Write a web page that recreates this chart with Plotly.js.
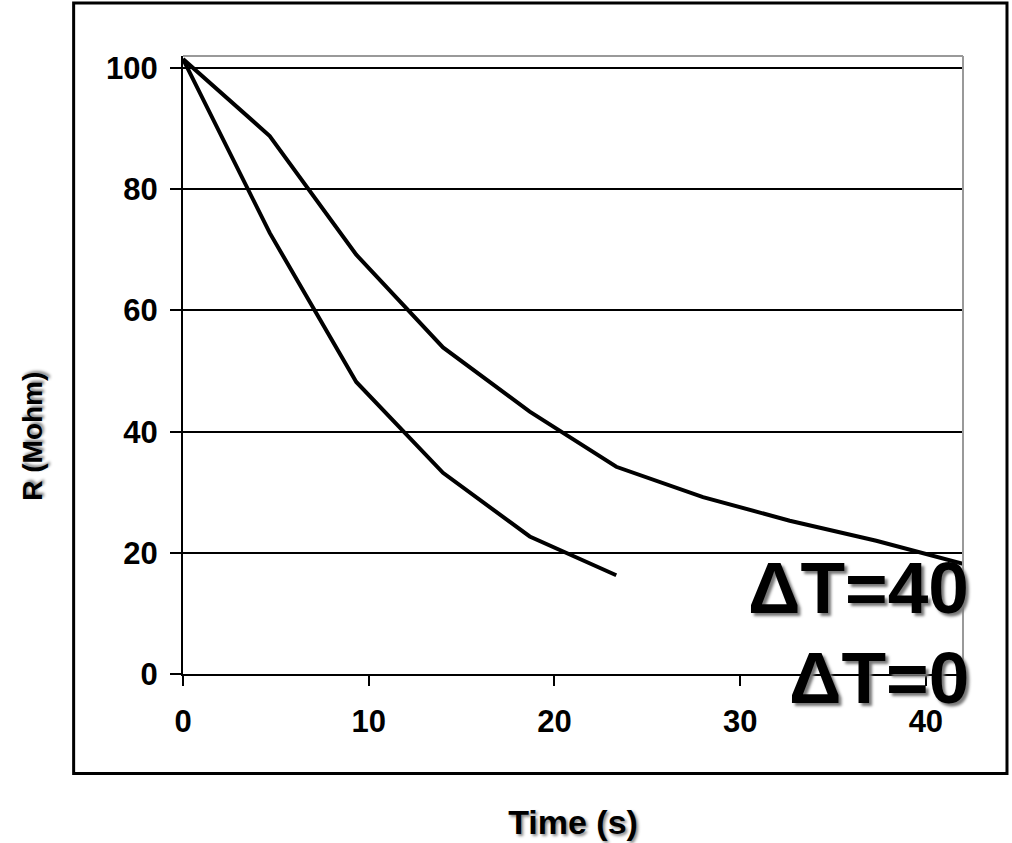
<!DOCTYPE html>
<html>
<head>
<meta charset="utf-8">
<script src="https://cdn.plot.ly/plotly-3.0.1.min.js"></script>
<style>html,body{margin:0;padding:0;background:#fff;}#chart{width:1012px;height:843px;}</style>
</head>
<body>
<div id="chart"></div>
<script>
// Data
const timeS = [0, 4.67, 9.33, 14, 18.67, 23.33, 28, 32.67, 37.33, 42];
const rDT40 = [101.5, 88.8, 69.2, 53.9, 43.3, 34.2, 29.2, 25.3, 22.0, 18.2];
const rDT0 = [101.5, 72.8, 48.2, 33.2, 22.7, 16.3];
const seriesNames = ["ΔT=40", "ΔT=0"];
const xTickVals = [0, 10, 20, 30, 40];
const yTickVals = [0, 20, 40, 60, 80, 100];
const xTitle = "Time (s)";
const yTitle = "R (Mohm)";

const FONT = "'Liberation Sans', Arial, sans-serif";

const traces = [
  {x: timeS, y: rDT40, name: seriesNames[0], mode: "lines", line: {color: "#000", width: 4}},
  {x: timeS.slice(0, rDT0.length), y: rDT0, name: seriesNames[1], mode: "lines", line: {color: "#000", width: 4}}
];

const layout = {
  width: 1012, height: 843,
  margin: {l: 183, r: 49, t: 56, b: 169},
  paper_bgcolor: "#fff", plot_bgcolor: "#fff",
  showlegend: false,
  font: {family: FONT, color: "#000"},
  xaxis: {
    range: [0, 42], tickvals: xTickVals, ticks: "outside", ticklen: 10, tickwidth: 2, tickcolor: "#000",
    showline: true, linecolor: "#000", linewidth: 2, showgrid: false, zeroline: false,
    ticklabelstandoff: 9,
    tickfont: {family: FONT, size: 31, weight: "bold", color: "#000"},
    title: {text: xTitle, standoff: 72, font: {family: FONT, size: 34, weight: "bold", color: "#000", shadow: "2px 2px 3px #888"}}
  },
  yaxis: {
    range: [0, 102], tickvals: yTickVals, ticks: "outside", ticklen: 11, tickwidth: 2, tickcolor: "#000",
    showline: true, linecolor: "#000", linewidth: 2, showgrid: true, gridcolor: "#000", gridwidth: 2, zeroline: false,
    ticklabelstandoff: 6,
    tickfont: {family: FONT, size: 31, weight: "bold", color: "#000"}
  },
  shapes: [
    {type: "line", xref: "paper", yref: "paper", x0: 0, x1: 1, y0: 1, y1: 1, line: {color: "#999", width: 2}},
    {type: "line", xref: "paper", yref: "paper", x0: 1, x1: 1, y0: 0, y1: 1, line: {color: "#999", width: 2}},
    {type: "rect", xref: "paper", yref: "paper", x0: -0.1402, x1: 1.0564, y0: -0.1612, y1: 1.0857, line: {color: "#000", width: 3}, fillcolor: "rgba(0,0,0,0)", layer: "below"}
  ],
  annotations: [
    {xref: "paper", yref: "paper", x: -0.194, y: 0.385, xanchor: "center", yanchor: "middle", textangle: -90, showarrow: false,
     text: yTitle, font: {family: FONT, size: 28, weight: "bold", color: "#000", shadow: "2px 2px 3px #888"}},
    {xref: "paper", yref: "paper", x: 1.010, y: 0.1395, xanchor: "right", yanchor: "middle", showarrow: false,
     text: seriesNames[0], font: {family: FONT, size: 73, weight: "bold", color: "#000", shadow: "3px 3px 3px #777"}},
    {xref: "paper", yref: "paper", x: 1.010, y: -0.005, xanchor: "right", yanchor: "middle", showarrow: false,
     text: seriesNames[1], font: {family: FONT, size: 73, weight: "bold", color: "#000", shadow: "3px 3px 3px #777"}}
  ]
};

Plotly.newPlot("chart", traces, layout, {displayModeBar: false, staticPlot: true});
</script>
</body>
</html>
